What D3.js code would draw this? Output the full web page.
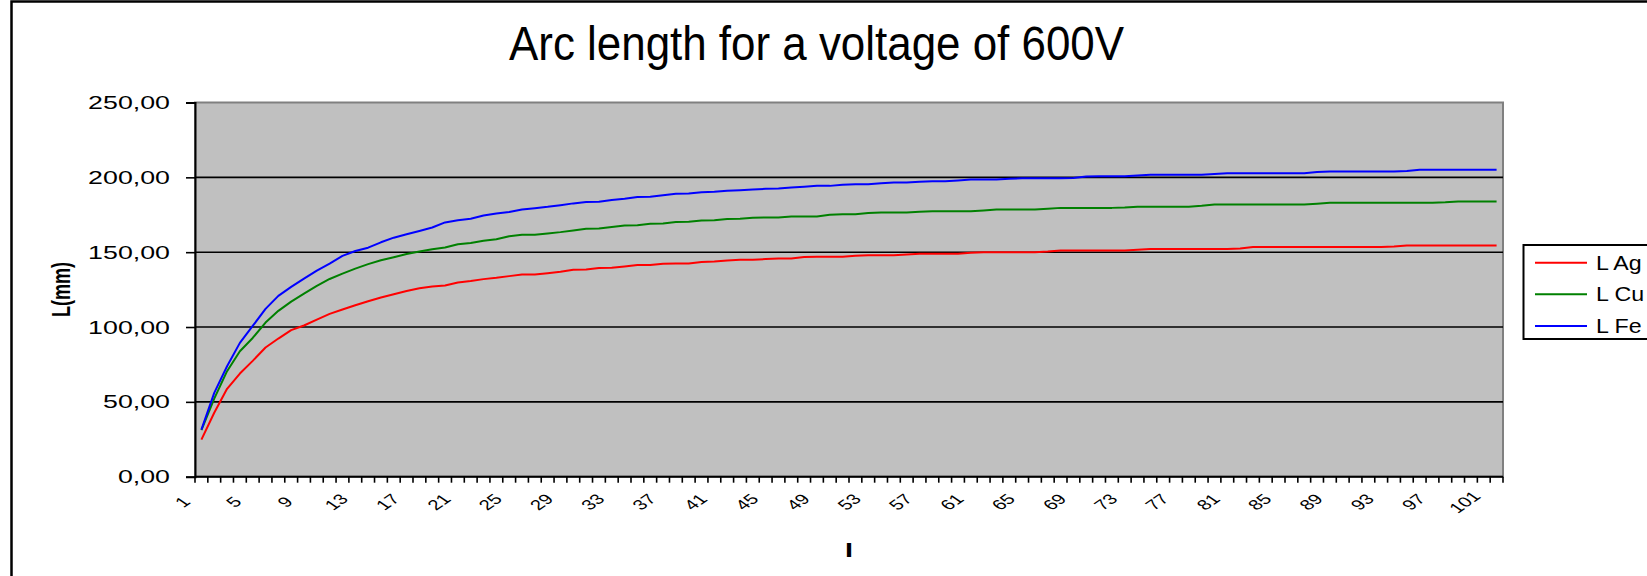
<!DOCTYPE html>
<html>
<head>
<meta charset="utf-8">
<script src="https://cdn.jsdelivr.net/npm/d3@7"></script>
<style>
  html, body { margin: 0; padding: 0; background: #ffffff; overflow: hidden; }
  svg { display: block; }
  text { font-family: "Liberation Sans", Arial, sans-serif; }
</style>
</head>
<body>
<svg id="chart" width="1647" height="576"></svg>
<script>
const categories = [1,2,3,4,5,6,7,8,9,10,11,12,13,14,15,16,17,18,19,20,21,22,23,24,25,26,27,28,29,30,31,32,33,34,35,36,37,38,39,40,41,42,43,44,45,46,47,48,49,50,51,52,53,54,55,56,57,58,59,60,61,62,63,64,65,66,67,68,69,70,71,72,73,74,75,76,77,78,79,80,81,82,83,84,85,86,87,88,89,90,91,92,93,94,95,96,97,98,99,100,101,102];

const xTickLabels = [1,5,9,13,17,21,25,29,33,37,41,45,49,53,57,61,65,69,73,77,81,85,89,93,97,101];

const yTicks = [0,50,100,150,200,250];

const seriesNames = ["L Ag", "L Cu", "L Fe"];

const lAg = [
  24.8, 42.7, 58.7, 68.9, 77.4, 86.3, 92.3, 97.9, 101.0, 105.0,
  108.8, 111.7, 114.5, 117.2, 119.7, 121.9, 124.1, 125.9, 127.0, 127.8,
  129.8, 130.7, 132.0, 132.9, 134.0, 135.1, 135.1, 136.0, 136.9, 138.3,
  138.5, 139.4, 139.6, 140.5, 141.4, 141.4, 142.3, 142.5, 142.5, 143.4,
  143.8, 144.5, 144.9, 144.9, 145.4, 145.8, 145.8, 146.7, 146.9, 146.9,
  146.9, 147.6, 148.0, 148.0, 148.0, 148.5, 148.9, 148.9, 148.9, 148.9,
  149.6, 150.0, 150.0, 150.0, 150.0, 150.0, 150.4, 151.1, 151.1, 151.1,
  151.1, 151.1, 151.1, 151.6, 152.1, 152.1, 152.1, 152.1, 152.1, 152.1,
  152.1, 152.5, 153.4, 153.4, 153.4, 153.4, 153.4, 153.4, 153.4, 153.4,
  153.4, 153.4, 153.4, 153.8, 154.4, 154.4, 154.4, 154.4, 154.4, 154.4,
  154.4, 154.4
];

const lCu = [
  31.1, 52.2, 70.5, 83.8, 92.7, 103.0, 110.8, 117.0, 122.3, 127.5,
  132.1, 135.7, 139.0, 142.0, 144.6, 146.6, 148.8, 150.4, 152.0, 153.1,
  155.3, 156.2, 157.6, 158.7, 160.7, 161.6, 161.6, 162.5, 163.4, 164.5,
  165.6, 165.8, 166.9, 167.8, 168.0, 169.0, 169.2, 170.1, 170.3, 171.2,
  171.4, 172.1, 172.3, 173.0, 173.2, 173.2, 173.8, 173.8, 173.9, 175.0,
  175.4, 175.4, 176.1, 176.5, 176.5, 176.5, 177.0, 177.4, 177.4, 177.4,
  177.4, 177.9, 178.5, 178.5, 178.5, 178.5, 179.0, 179.6, 179.6, 179.6,
  179.6, 179.6, 179.8, 180.4, 180.4, 180.4, 180.4, 180.4, 181.0, 181.9,
  181.9, 181.9, 181.9, 181.9, 181.9, 181.9, 181.9, 182.4, 183.0, 183.0,
  183.0, 183.0, 183.0, 183.0, 183.0, 183.0, 183.0, 183.3, 183.9, 183.9,
  183.9, 183.9
];

const lFe = [
  31.5, 56.0, 73.8, 89.4, 100.7, 112.1, 120.8, 126.8, 132.3, 137.7,
  142.4, 147.5, 150.8, 153.0, 156.6, 159.7, 162.0, 164.2, 166.5, 169.9,
  171.4, 172.3, 174.5, 175.9, 176.8, 178.5, 179.4, 180.3, 181.4, 182.6,
  183.5, 183.7, 184.8, 185.7, 186.8, 187.0, 188.1, 189.0, 189.2, 190.1,
  190.3, 191.0, 191.4, 191.9, 192.3, 192.5, 193.2, 193.7, 194.3, 194.3,
  195.0, 195.4, 195.4, 196.1, 196.5, 196.5, 197.0, 197.4, 197.4, 197.9,
  198.5, 198.5, 198.5, 199.0, 199.4, 199.4, 199.4, 199.4, 199.6, 200.6,
  200.8, 200.8, 200.8, 201.3, 201.7, 201.7, 201.7, 201.7, 201.7, 202.2,
  202.8, 202.8, 202.8, 202.8, 202.8, 202.8, 202.8, 203.6, 203.9, 203.9,
  203.9, 203.9, 203.9, 203.9, 204.2, 205.0, 205.0, 205.0, 205.0, 205.0,
  205.0, 205.0
];

const seriesColors = ["#ff0000", "#008000", "#0000ff"];
const seriesValues = [lAg, lCu, lFe];

const titleText = "Arc length for a voltage of 600V";
const yTitle = "L(mm)";
const xTitle = "I";

// ---------- layout ----------
const W = 1647, H = 576;
const plot = { left: 195, right: 1503, top: 102.5, bottom: 476.7 };
const SX = 1.44;   // horizontal stretch of the small text in the picture
const SX_LEG = 1.16;

const svg = d3.select("#chart");
svg.append("rect").attr("x", 0).attr("y", 0).attr("width", W).attr("height", H).attr("fill", "#ffffff");

// outer chart frame (right/bottom edges run off the picture)
svg.append("rect")
  .attr("x", 11.5).attr("y", 1.5)
  .attr("width", 1800).attr("height", 800)
  .attr("fill", "none").attr("stroke", "#000").attr("stroke-width", 2.5);

const x = d3.scaleBand().domain(categories).range([plot.left, plot.right]).padding(0);
const y = d3.scaleLinear().domain([0, 250]).range([plot.bottom, plot.top]);

const locale = d3.formatLocale({ decimal: ",", thousands: ".", grouping: [3], currency: ["", ""] });
const fmt = locale.format(".2f");

// plot area
svg.append("rect")
  .attr("x", plot.left).attr("y", plot.top)
  .attr("width", plot.right - plot.left).attr("height", plot.bottom - plot.top)
  .attr("fill", "#c0c0c0").attr("stroke", "#808080").attr("stroke-width", 2);

// gridlines
svg.append("g").selectAll("line")
  .data(yTicks.filter(v => v > 0 && v < 250))
  .join("line")
  .attr("x1", plot.left).attr("x2", plot.right)
  .attr("y1", d => y(d)).attr("y2", d => y(d))
  .attr("stroke", "#000").attr("stroke-width", 1.6);

// y axis (line + ticks from d3 axis, labels drawn stretched)
const yAxis = d3.axisLeft(y).tickValues(yTicks).tickFormat("").tickSize(9);
const gy = svg.append("g").attr("transform", `translate(${plot.left},0)`).call(yAxis);
gy.select(".domain").attr("stroke", "#000").attr("stroke-width", 2);
gy.selectAll(".tick line").attr("stroke", "#000").attr("stroke-width", 1.6);

svg.append("g").selectAll("text")
  .data(yTicks)
  .join("text")
  .attr("transform", d => `translate(${170},${y(d)}) scale(${SX},1)`)
  .attr("text-anchor", "end")
  .attr("dy", "0.35em")
  .attr("font-size", 18.6)
  .attr("fill", "#000")
  .text(d => fmt(d));

// x axis line
svg.append("line")
  .attr("x1", plot.left).attr("x2", plot.right)
  .attr("y1", plot.bottom).attr("y2", plot.bottom)
  .attr("stroke", "#000").attr("stroke-width", 2);

// x ticks at category boundaries
const boundaries = categories.map(c => x(c)).concat([x(categories[categories.length - 1]) + x.bandwidth()]);
svg.append("g").selectAll("line")
  .data(boundaries)
  .join("line")
  .attr("x1", d => d).attr("x2", d => d)
  .attr("y1", plot.bottom).attr("y2", plot.bottom + 6)
  .attr("stroke", "#000").attr("stroke-width", 1.6);

// x tick labels (rotated, stretched)
svg.append("g").selectAll("text")
  .data(xTickLabels)
  .join("text")
  .attr("transform", d => `translate(${x(d) + x.bandwidth() / 2 - 19},${502}) scale(${SX},1) rotate(-45)`)
  .attr("text-anchor", "middle")
  .attr("dy", "0.35em")
  .attr("font-size", 14.2)
  .attr("fill", "#000")
  .text(d => d);

// series lines
const line = d3.line()
  .x((d, i) => x(categories[i]) + x.bandwidth() / 2)
  .y(d => y(d));

svg.append("g").selectAll("path")
  .data(seriesValues)
  .join("path")
  .attr("d", d => line(d))
  .attr("fill", "none")
  .attr("stroke", (d, i) => seriesColors[i])
  .attr("stroke-width", 2)
  .attr("stroke-linejoin", "round");

// title
svg.append("text")
  .attr("x", 816.5).attr("y", 60)
  .attr("text-anchor", "middle")
  .attr("font-family", 'Lato, "Open Sans", "Liberation Sans", sans-serif')
  .attr("font-size", 48)
  .attr("textLength", 615)
  .attr("lengthAdjust", "spacingAndGlyphs")
  .attr("fill", "#000")
  .text(titleText);

// y title
svg.append("text")
  .attr("transform", `translate(${61},${(plot.top + plot.bottom) / 2}) scale(${SX},1) rotate(-90)`)
  .attr("text-anchor", "middle")
  .attr("dy", "0.35em")
  .attr("font-weight", "bold")
  .attr("font-size", 18)
  .attr("fill", "#000")
  .text(yTitle);

// x title
svg.append("text")
  .attr("transform", `translate(${(plot.left + plot.right) / 2},${557}) scale(${SX},1)`)
  .attr("text-anchor", "middle")
  .attr("font-weight", "bold")
  .attr("font-size", 20)
  .attr("fill", "#000")
  .text(xTitle);

// legend
const lg = svg.append("g");
lg.append("rect")
  .attr("x", 1523.5).attr("y", 245)
  .attr("width", 160).attr("height", 94)
  .attr("fill", "#ffffff").attr("stroke", "#000").attr("stroke-width", 2);
const rowsY = [262.7, 294.3, 326];
seriesNames.forEach((name, i) => {
  lg.append("line")
    .attr("x1", 1535).attr("x2", 1587)
    .attr("y1", rowsY[i]).attr("y2", rowsY[i])
    .attr("stroke", seriesColors[i]).attr("stroke-width", 2);
  lg.append("text")
    .attr("transform", `translate(${1596},${rowsY[i]}) scale(${SX_LEG},1)`)
    .attr("dy", "0.35em")
    .attr("font-size", 20)
    .attr("fill", "#000")
    .text(name);
});
</script>
</body>
</html>
